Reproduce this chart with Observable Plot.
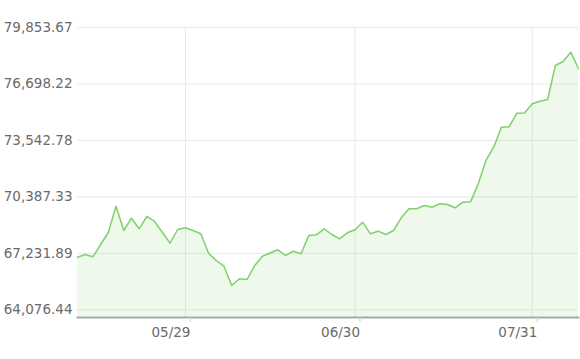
<!DOCTYPE html>
<html>
<head>
<meta charset="utf-8">
<script src="https://cdn.jsdelivr.net/npm/d3@7"></script>
<script src="https://cdn.jsdelivr.net/npm/@observablehq/plot@0.6"></script>
<style>
  html, body { margin: 0; padding: 0; background: #fff; }
  #chart svg { display: block; }
</style>
</head>
<body>
<div id="chart"></div>
<script>
// Series values (one per trading day)
const values = [
  67016, 67167, 67039, 67726, 68397, 69867, 68509, 69196, 68603, 69291,
  69012, 68413, 67799, 68564, 68659, 68509, 68324, 67240, 66832, 66513,
  65435, 65809, 65770, 66553, 67072, 67251, 67430, 67112, 67351, 67206,
  68229, 68268, 68603, 68285, 68045, 68380, 68548, 68973, 68324, 68470,
  68285, 68509, 69218, 69722, 69722, 69906, 69811, 70001, 69962, 69777,
  70090, 70110, 71119, 72421, 73164, 74282, 74300, 75064, 75080, 75590,
  75735, 75830, 77730, 77954, 78474, 77546
];
// X tick positions (day index) and their labels
const xTickIndex = [14, 36, 59];
const xTickLabels = ["05/29", "06/30", "07/31"];
// Y tick values
const yTicks = [64076.44, 67231.89, 70387.33, 73542.78, 76698.22, 79853.67];
const yMin = 63646;
const yMax = 79853.67;

const data = values.map((v, i) => ({i, v}));

const font = "Verdana, 'DejaVu Sans', sans-serif";

const chart = Plot.plot({
  width: 580,
  height: 359,
  marginTop: 27,
  marginBottom: 42,
  marginLeft: 77,
  marginRight: 2,
  style: {fontFamily: font, fontSize: "13.5px", color: "#6a6a6a", background: "#fff"},
  x: {domain: [0, values.length - 1]},
  y: {domain: [yMin, yMax]},
  marks: [
    Plot.gridY(yTicks, {stroke: "#e8e8e8", strokeOpacity: 1}),
    Plot.gridX(xTickIndex, {stroke: "#e8e8e8", strokeOpacity: 1}),
    Plot.areaY(data, {x: "i", y1: yMin, y2: "v", fill: "#7fd16c", fillOpacity: 0.13}),
    Plot.lineY(data, {x: "i", y: "v", stroke: "#7fd16c", strokeWidth: 1.5}),
    Plot.frame({anchor: "bottom", stroke: "#a8a8a8", strokeWidth: 2}),
    Plot.axisY({
      ticks: yTicks,
      tickSize: 0,
      tickPadding: 5,
      tickFormat: d3.format(",.2f"),
      fill: "#6a6a6a",
      fontSize: 13.5,
      label: null
    }),
    Plot.axisX({
      ticks: xTickIndex,
      tickSize: 5,
      tickPadding: 5,
      stroke: "#cfcfcf",
      tickFormat: d => xTickLabels[xTickIndex.indexOf(d)],
      fill: "#6a6a6a",
      fontSize: 13.5,
      textAnchor: "end",
      dx: 5,
      label: null
    })
  ]
});
document.getElementById("chart").appendChild(chart);
</script>
</body>
</html>
